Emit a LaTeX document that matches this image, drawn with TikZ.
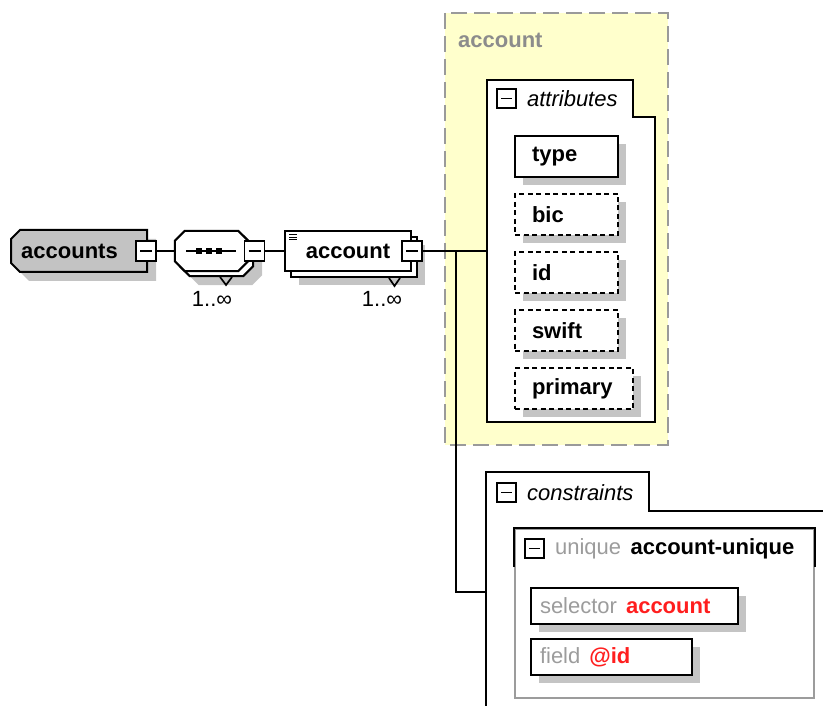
\documentclass[tikz,border=0pt]{standalone}
\usepackage{fontspec}
\setmainfont{Liberation Sans}
\usetikzlibrary{positioning,shadows}
\definecolor{shade}{HTML}{C4C4C4}
\definecolor{cream}{HTML}{FFFFCC}
\definecolor{grayfill}{HTML}{C3C3C3}
\definecolor{dimtext}{HTML}{9C9C9C}
\definecolor{typetext}{HTML}{8C8C8C}
\definecolor{dashgray}{HTML}{9A9A9A}
\definecolor{hot}{HTML}{FF1E1E}
\newcommand\dsz{\fontsize{22}{26}\selectfont}

\begin{document}
\begin{tikzpicture}[x=1pt,y=-1pt,
  ln/.style={line width=1.7pt},
  bx/.style={draw,fill=white,line width=2pt},
  sh/.style={drop shadow={shadow xshift=#1,shadow yshift=-#1,fill=shade,opacity=1}},
  tgl/.style={draw,fill=white,line width=1.8pt,minimum size=20pt,inner sep=0pt,
    path picture={\draw[line width=1.8pt] ([xshift=4pt]path picture bounding box.west) -- ([xshift=-4pt]path picture bounding box.east);}},
  lbl/.style={inner sep=1pt,font=\dsz\bfseries},
  tabtxt/.style={inner sep=1pt,font=\dsz\itshape},
  mult/.style={inner sep=1pt,font=\dsz},
  att/.style={bx,sh=8pt,minimum height=41pt,inner xsep=17pt,text width=69pt,align=left,font=\dsz\bfseries},
  opt/.style={dash pattern=on 5pt off 3.5pt},
  keyref/.style={bx,sh=8pt,minimum height=36pt,inner xsep=9pt,align=left,font=\dsz}]
\useasboundingbox (0,0) rectangle (823,706);
\clip (0,0) rectangle (823,706);

% root element
\draw[bx,fill=grayfill,sh=9pt] (20,230) -- (147,230) -- (147,272) -- (20,272) -- (11,263) -- (11,239) -- cycle;
\node[lbl,anchor=west] (accounts) at (20,251) {accounts};
\node[tgl] (accountsTgl) at (146,251) {};

% sequence
\node[minimum width=73pt,minimum height=40pt,inner sep=0pt] (seq) at (211.5,251) {};
\draw[bx,sh=14pt,copy shadow={shadow xshift=5pt,shadow yshift=-5pt,draw=black,fill=white,line width=2pt}]
  ([xshift=10pt]seq.north west) -- ([xshift=-10pt]seq.north east) -- ([yshift=-10pt]seq.north east)
  -- ([yshift=10pt]seq.south east) -- ([xshift=-10pt]seq.south east) -- ([xshift=10pt]seq.south west)
  -- ([yshift=10pt]seq.south west) -- ([yshift=-10pt]seq.north west) -- cycle;
\draw[ln] (220,277) -- (226,285) -- (232,277);
\draw[ln] (186,251) -- (236,251);
\foreach \x in {199,209,219} \fill (\x-3,248) rectangle ++(6,6);
\node[tgl] (seqTgl) at (254.5,251) {};
\node[mult] (seqMult) at (212,299) {1..∞};

% account element
\node[bx,sh=14pt,copy shadow={shadow xshift=6pt,shadow yshift=-6pt,draw=black,fill=white,line width=2pt},
  minimum width=126pt,minimum height=40pt,font=\dsz\bfseries] (account) at (348,251) {account};
\foreach \y in {235,237.5,240} \draw[line width=1pt] (289,\y) -- (297,\y);
\draw[ln] (389,278) -- (394.5,286) -- (400,278);
\node[tgl] (accountTgl) at (412,251) {};
\node[mult] (accountMult) at (382,299) {1..∞};

\draw[ln] (accountsTgl) -- (seq);
\draw[ln] (seqTgl) -- (account);

% complex type
\draw[fill=cream,draw=dashgray,line width=1.7pt,dash pattern=on 16pt off 7pt] (445,13) rectangle (668,445);
\node[lbl,text=typetext,anchor=west] (ctypeT) at (457,40) {account};

% attributes
\node[anchor=north west,minimum width=168pt,minimum height=342pt,inner sep=0pt] (attrs) at (487,80) {};
\draw[bx] (attrs.north west) -- ++(146,0) -- ++(0,37) -| (attrs.south east) -- (attrs.south west) -- cycle;
\node[tgl,minimum size=19pt] (attrTgl) at (506.5,98.5) {};
\node[tabtxt,right=9pt of attrTgl] (attrT) {attributes};
\node[att,anchor=north west] (type) at (514,135) {type};
\node[att,opt,below=15pt of type.south west,anchor=north west] (bic) {bic};
\node[att,opt,below=15pt of bic.south west,anchor=north west] (id) {id};
\node[att,opt,below=15pt of id.south west,anchor=north west] (swift) {swift};
\node[att,opt,text width=84pt,below=15pt of swift.south west,anchor=north west] (primary) {primary};

% constraints
\node[anchor=north west,minimum width=350pt,minimum height=240pt,inner sep=0pt] (cons) at (486,472) {};
\draw[bx] (cons.north west) -- ++(163,0) -- ++(0,39) -| (cons.south east) -- (cons.south west) -- cycle;
\node[tgl,minimum size=19pt] (consTgl) at (506.5,492.5) {};
\node[tabtxt,right=9pt of consTgl] (consT) {constraints};

\coordinate[right=33pt of accountTgl] (split);
\draw[ln] (accountTgl) -- (attrs);
\draw[ln] (split) |- (cons.west);

% unique key
\node[anchor=north west,minimum width=299pt,minimum height=169pt,inner sep=0pt,draw=dimtext,fill=white,line width=1.6pt] (uniq) at (514,528) {};
\draw[line width=2pt] ([yshift=-39pt]uniq.north west) -- (uniq.north west) -- (uniq.north east) -- ([yshift=-39pt]uniq.north east);
\node[tgl,minimum size=19pt] (uniqTgl) at (534.5,548.5) {};
\node[mult,text=dimtext,right=9pt of uniqTgl] (uniqKind) {unique};
\node[lbl,right=7pt of uniqKind] (uniqName) {account-unique};
\node[keyref,anchor=north west,text width=189pt] (selector) at (530,587) {\textcolor{dimtext}{selector}\hspace{9pt}\textcolor{hot}{\bfseries account}};
\node[keyref,anchor=north west,text width=143pt] (field) at (530,638) {\textcolor{dimtext}{field}\hspace{9pt}\textcolor{hot}{\bfseries @id}};
\end{tikzpicture}
\end{document}
